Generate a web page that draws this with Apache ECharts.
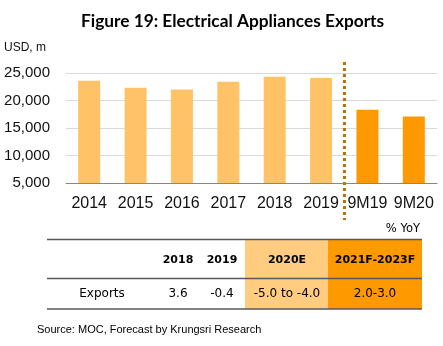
<!DOCTYPE html>
<html>
<head>
<meta charset="utf-8">
<script src="https://cdn.jsdelivr.net/npm/echarts@6/dist/echarts.min.js"></script>
<style>html,body{margin:0;padding:0;background:#fff;}#c{width:443px;height:346px;}</style>
</head>
<body>
<div id="c"></div>
<script>
var categories = ['2014','2015','2016','2017','2018','2019','9M19','9M20'];
var annualValues = [23600, 22300, 22000, 23400, 24300, 24100, null, null];
var ytdValues = [null, null, null, null, null, null, 18300, 17100];
var yTicks = {min: 5000, max: 25000, interval: 5000};
var tableHeaders = ['', '2018', '2019', '2020E', '2021F-2023F'];
var tableRowLabel = 'Exports';
var tableRowValues = ['3.6', '-0.4', '-5.0 to -4.0', '2.0-3.0'];

var chart = echarts.init(document.getElementById('c'), null, {renderer: 'canvas'});
var option = {
  animation: false,
  title: {
    text: 'Figure 19: Electrical Appliances Exports',
    left: 76, top: 8,
    textStyle: {fontFamily: 'Lato', fontWeight: 'bold', fontSize: 17.3, color: '#000'}
  },
  grid: {left: 66, right: 6, top: 73, bottom: 163},
  xAxis: {
    type: 'category', data: categories,
    axisLine: {lineStyle: {color: '#868686', width: 1}},
    axisTick: {show: false},
    axisLabel: {color: '#111', fontFamily: 'Liberation Sans', fontSize: 16, margin: 13, interval: 0}
  },
  yAxis: {
    type: 'value', min: yTicks.min, max: yTicks.max, interval: yTicks.interval,
    axisLine: {show: false}, axisTick: {show: false},
    splitLine: {lineStyle: {color: '#d9d9d9', width: 1}},
    axisLabel: {color: '#111', fontFamily: 'Liberation Sans', fontSize: 15, margin: 16,
      formatter: function (v) { return v.toLocaleString('en-US'); }}
  },
  series: [
    {type: 'bar', data: annualValues, stack: 's', barWidth: 22, itemStyle: {color: '#FFC266'}},
    {type: 'bar', data: ytdValues, stack: 's', barWidth: 22, itemStyle: {color: '#FF9900'}}
  ]
};
chart.setOption(option);

var x5 = chart.convertToPixel({xAxisIndex: 0}, categories[5]);
var x6 = chart.convertToPixel({xAxisIndex: 0}, categories[6]);
var sepX = Math.round((x5 + x6) / 2) + 0.5;

var g = [];
g.push({type: 'text', style: {text: 'USD, m', x: 4, y: 48, align: 'left', verticalAlign: 'middle',
  font: '12px "Liberation Sans"', fill: '#111'}});
g.push({type: 'line', shape: {x1: sepX, y1: 62, x2: sepX, y2: 220},
  style: {stroke: '#C07000', lineWidth: 3, lineDash: [3, 3]}});

var tL = 47, tR = 422, yTop = 239.5, yMid = 278.5, yBot = 309;
var colCenters = [102, 178, 222, 287, 375];
g.push({type: 'rect', shape: {x: 245, y: yTop, width: 83, height: yBot - yTop}, style: {fill: '#FFCC80'}});
g.push({type: 'rect', shape: {x: 328, y: yTop, width: tR - 328, height: yBot - yTop}, style: {fill: '#FF9900'}});
[yTop, yMid, yBot].forEach(function (y) {
  g.push({type: 'line', shape: {x1: tL, y1: y, x2: tR, y2: y}, style: {stroke: '#595959', lineWidth: 1.5}});
});
g.push({type: 'text', style: {text: '% YoY', x: 420, y: 229, align: 'right', verticalAlign: 'middle',
  font: '11.5px "DejaVu Sans"', fill: '#000'}});
for (var i = 1; i < tableHeaders.length; i++) {
  g.push({type: 'text', style: {text: tableHeaders[i], x: colCenters[i], y: 260, align: 'center', verticalAlign: 'middle',
    font: 'bold 11px "DejaVu Sans"', fill: '#000'}});
}
g.push({type: 'text', style: {text: tableRowLabel, x: colCenters[0], y: 294, align: 'center', verticalAlign: 'middle',
  font: '12px "DejaVu Sans"', fill: '#000'}});
for (var j = 0; j < tableRowValues.length; j++) {
  g.push({type: 'text', style: {text: tableRowValues[j], x: colCenters[j + 1], y: 294, align: 'center', verticalAlign: 'middle',
    font: '12px "DejaVu Sans"', fill: '#000'}});
}
g.push({type: 'text', style: {text: 'Source: MOC, Forecast by Krungsri Research', x: 37, y: 330, align: 'left', verticalAlign: 'middle',
  font: '11px "Liberation Sans"', fill: '#000'}});
chart.setOption({graphic: g});
</script>
</body>
</html>
